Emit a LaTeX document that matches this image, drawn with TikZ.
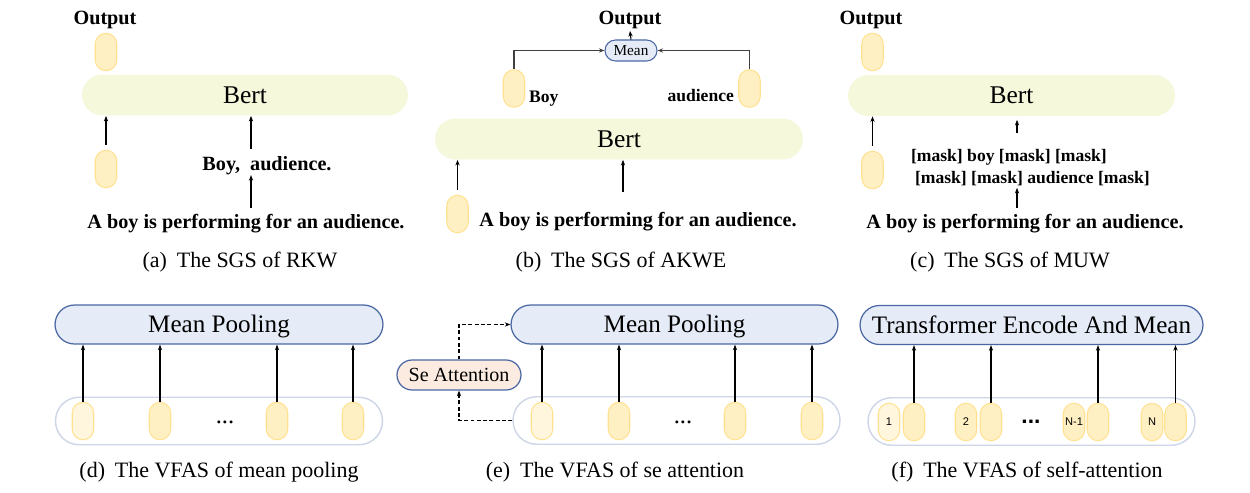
\documentclass[tikz,border=0pt]{standalone}
\usepackage{fontspec}
\setmainfont{Liberation Serif}
\setsansfont{Liberation Sans}
\usetikzlibrary{arrows.meta}

\definecolor{capfill}{HTML}{FFF0C4}
\definecolor{capfillpale}{HTML}{FFF6DD}
\definecolor{capline}{HTML}{FFE291}
\definecolor{bertfill}{HTML}{F5F8DB}
\definecolor{poolfill}{HTML}{E6ECF7}
\definecolor{poolline}{HTML}{4A67A3}
\definecolor{bagline}{HTML}{CDD5E6}
\definecolor{sefill}{HTML}{FCEBE1}
\definecolor{linkgray}{HTML}{404040}

\begin{document}
\begin{tikzpicture}[x=0.02cm, y=-0.02cm, >={Stealth[length=3.2pt,width=2.4pt]},
  every node/.style={align=center, inner sep=1pt},
  vec/.style={draw=capline, fill=capfill, line width=0.6pt, minimum width=0.43cm, minimum height=0.75cm, rounded corners=0.215cm, inner sep=0pt, font=\sffamily\fontsize{6.3}{7}\selectfont},
  palevec/.style={vec, fill=capfillpale},
  bertbox/.style={fill=bertfill, minimum height=0.82cm, rounded corners=0.41cm, font=\fontsize{14.5}{17}\selectfont},
  poolbox/.style={draw=poolline, fill=poolfill, line width=0.7pt, minimum height=0.78cm, rounded corners=0.39cm, text height=2ex, text depth=0pt, font=\fontsize{14.3}{17}\selectfont},
  bag/.style={draw=bagline, line width=0.8pt, minimum width=6.54cm, minimum height=0.95cm, rounded corners=0.47cm},
  word/.style={font=\bfseries\fontsize{11.5}{13}\selectfont},
  smallword/.style={font=\bfseries\fontsize{10}{12.5}\selectfont},
  subcap/.style={font=\fontsize{12.5}{15}\selectfont},
  link/.style={->, line width=0.6pt},
]
\fill[white] (0,0) rectangle (1250,493);
\useasboundingbox (0,0) rectangle (1250,493);

% (a) RKW
\node (outA) [word] at (105,20) {Output};
\node (vecA1) [vec] at (106,52) {};
\node (bertA) [bertbox, minimum width=6.52cm] at (245,95) {Bert};
\node (vecA2) [vec] at (106,169) {};
\node (kwA) [word] at (267,165.5) {Boy,\ \ audience.};
\node (sentA) [word] at (246,223.5) {A boy is performing for an audience.};
\node (capA) [subcap] at (240,262) {(a)\hspace{0.45em}The SGS of RKW};

\draw[link] ([yshift=2.8pt]vecA2.north) -- (vecA2.north |- bertA.south);
\draw[link] ([xshift=0.12cm, yshift=3pt]bertA.south |- kwA.north) -- ([xshift=0.12cm]bertA.south);
\draw[link] ([xshift=0.12cm, yshift=2.5pt]bertA.south |- sentA.north) -- ([xshift=0.12cm, yshift=1pt]bertA.south |- kwA.south);

% (b) AKWE
\node (outB) [word] at (630,20) {Output};
\node (meanB) [draw=poolline, fill=poolfill, line width=0.6pt, minimum width=1.04cm, minimum height=0.42cm, rounded corners=0.21cm, inner sep=0pt, font=\fontsize{8.7}{10}\selectfont] at (631,50.5) {Mean};
\node (vecB1) [vec] at (514,88.5) {};
\node (vecB2) [vec] at (749.5,88.5) {};
\node (boyB) [smallword, anchor=west] at (527,98.5) {Boy};
\node (audB) [smallword, anchor=east] at (736,96) {audience};
\node (bertB) [bertbox, minimum width=7.36cm] at (619,139) {Bert};
\node (vecB3) [vec] at (457.5,214) {};
\node (sentB) [word] at (638,221.5) {A boy is performing for an audience.};
\node (capB) [subcap] at (621,262) {(b)\hspace{0.45em}The SGS of AKWE};

\draw[link] (meanB.north) -- (outB.south);
\draw[link, linkgray, line width=1pt] (vecB1.north) |- (meanB.west);
\draw[link, linkgray, line width=1pt] (vecB2.north) |- (meanB.east);
\draw[link] ([yshift=2.8pt]vecB3.north) -- (vecB3.north |- bertB.south);
\draw[link] ([xshift=0.08cm, yshift=10pt]bertB.south |- sentB.north) -- ([xshift=0.08cm]bertB.south);

% (c) MUW
\node (outC) [word] at (871,20) {Output};
\node (vecC1) [vec] at (872.5,52) {};
\node (bertC) [bertbox, minimum width=6.54cm] at (1011.5,95.5) {Bert};
\node (vecC2) [vec] at (872.5,170) {};
\node (maskC) [smallword, align=left, anchor=west] at (909,167.5) {[mask] boy [mask] [mask]\\\hspace{0.08cm}[mask] [mask] audience [mask]};
\node (sentC) [word] at (1025,223.5) {A boy is performing for an audience.};
\node (capC) [subcap] at (1010,262) {(c)\hspace{0.45em}The SGS of MUW};

\draw[link] ([yshift=2.8pt]vecC2.north) -- (vecC2.north |- bertC.south);
\draw[link, shorten >=2pt] ([xshift=0.11cm, yshift=8pt]bertC.south |- maskC.north) -- ([xshift=0.11cm]bertC.south);
\draw[link] ([xshift=0.11cm, yshift=2.5pt]bertC.south |- sentC.north) -- ([xshift=0.11cm]bertC.south |- maskC.south);

% (d) mean pooling
\node (bagD) [bag] at (219,421) {};
\node (vecD1) [palevec] at (83,421) {};
\node (vecD2) [vec] at (160,421) {};
\node (vecD3) [vec] at (277,421) {};
\node (vecD4) [vec] at (353,421) {};
\node (dotsD) [font=\fontsize{14}{14}\selectfont, inner sep=0pt] at (225,422) {...};
\node (poolD) [poolbox, minimum width=6.56cm] at (219,324.5) {Mean Pooling};
\node (capD) [subcap] at (219,472.5) {(d)\hspace{0.45em}The VFAS of mean pooling};

\draw[link] (vecD1.north) -- (vecD1.north |- poolD.south);
\draw[link] (vecD2.north) -- (vecD2.north |- poolD.south);
\draw[link] (vecD3.north) -- (vecD3.north |- poolD.south);
\draw[link] (vecD4.north) -- (vecD4.north |- poolD.south);

% (e) se attention
\node (bagE) [bag] at (676.5,420.5) {};
\node (vecE1) [palevec] at (542,421) {};
\node (vecE2) [vec] at (619,421) {};
\node (vecE3) [vec] at (735,421) {};
\node (vecE4) [vec] at (812,421) {};
\node (dotsE) [font=\fontsize{14}{14}\selectfont, inner sep=0pt] at (683,422) {...};
\node (poolE) [poolbox, minimum width=6.54cm] at (674.5,324.5) {Mean Pooling};
\node (seE) [draw=poolline, fill=sefill, line width=0.7pt, minimum width=2.48cm, minimum height=0.6cm, rounded corners=0.3cm, text height=1.6ex, text depth=0pt, font=\fontsize{11.4}{13}\selectfont] at (459,375) {Se Attention};
\node (capE) [subcap] at (615,472.5) {(e)\hspace{0.45em}The VFAS of se attention};

\draw[link] (vecE1.north) -- (vecE1.north |- poolE.south);
\draw[link] (vecE2.north) -- (vecE2.north |- poolE.south);
\draw[link] (vecE3.north) -- (vecE3.north |- poolE.south);
\draw[link] (vecE4.north) -- (vecE4.north |- poolE.south);
\draw[link, dash pattern=on 2.2pt off 1.4pt] (seE.north) |- (poolE.west);
\draw[link, dash pattern=on 2.2pt off 1.4pt] (bagE.west) -| (seE.south);

% (f) self-attention
\node (bagF) [bag] at (1031.5,421.5) {};
\node (idF1) [palevec] at (889,422) {1};
\node (vecF1) [vec] at (914,422) {};
\node (idF2) [vec] at (966,422) {2};
\node (vecF2) [vec] at (991,422) {};
\node (dotsF) [font=\sffamily\bfseries\fontsize{13}{13}\selectfont, inner sep=0pt] at (1031,422) {...};
\node (idF3) [vec] at (1074,422) {N-1};
\node (vecF3) [vec] at (1098,422) {};
\node (idF4) [vec] at (1152,422) {N};
\node (vecF4) [vec] at (1175.5,422) {};
\node (poolF) [poolbox, minimum width=6.86cm] at (1031.5,325) {Transformer Encode And Mean};
\node (capF) [subcap] at (1027,472.5) {(f)\hspace{0.45em}The VFAS of self-attention};

\draw[link] (vecF1.north) -- (vecF1.north |- poolF.south);
\draw[link] (vecF2.north) -- (vecF2.north |- poolF.south);
\draw[link] (vecF3.north) -- (vecF3.north |- poolF.south);
\draw[link] (vecF4.north) -- (vecF4.north |- poolF.south);
\end{tikzpicture}
\end{document}
